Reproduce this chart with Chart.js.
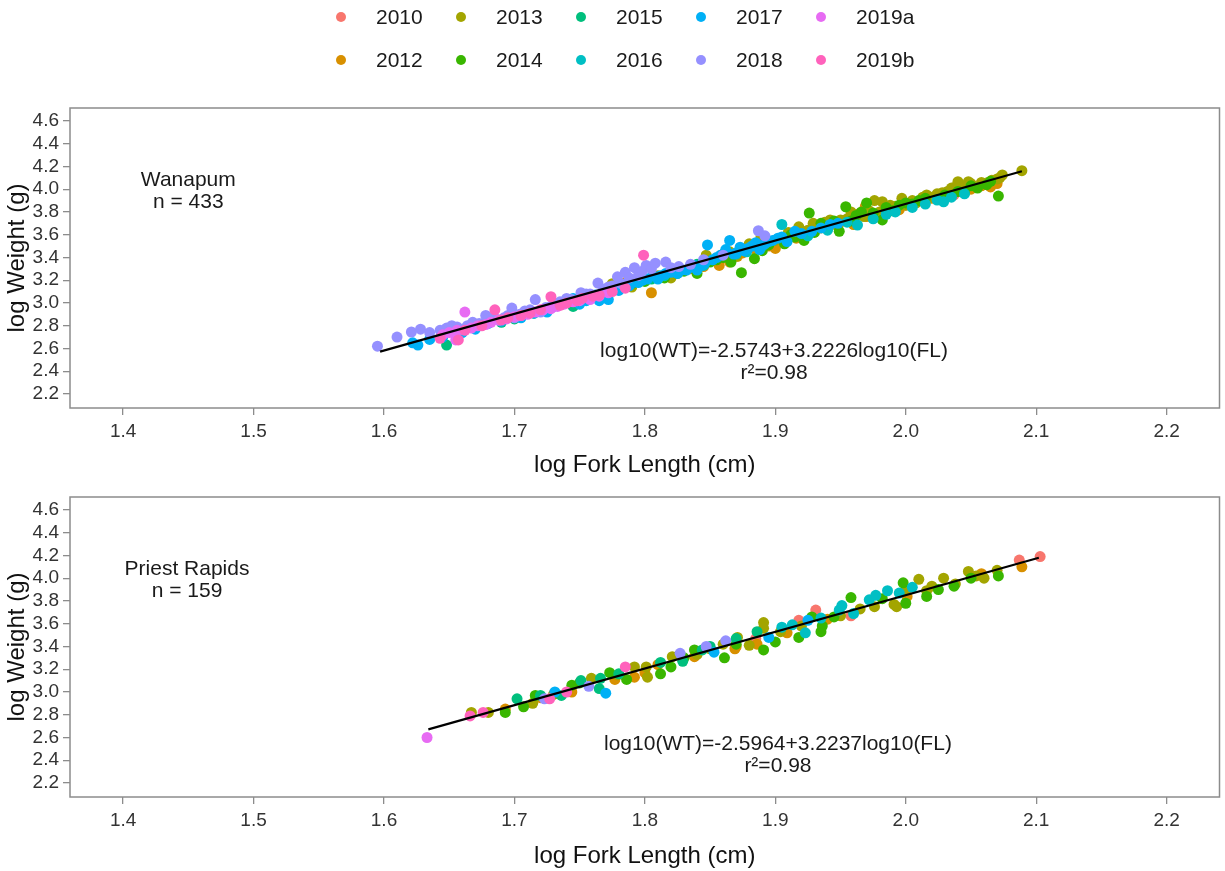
<!DOCTYPE html>
<html>
<head>
<meta charset="utf-8">
<script src="https://cdn.jsdelivr.net/npm/chart.js@4.4.1/dist/chart.umd.min.js"></script>
<style>
  body { margin: 0; background: #ffffff; }
  #wrap { position: relative; width: 1225px; height: 871px; overflow: hidden; font-family: "Liberation Sans", Arial, sans-serif; }
  #c1 { position: absolute; left: 0; top: 0; }
  #c2 { position: absolute; left: 0; top: 480px; }
  #legend { position: absolute; left: 0; top: 0; width: 1225px; height: 80px; z-index: 2; }
  .item { position: absolute; height: 24px; display: flex; align-items: center; font-size: 21px; line-height: 24px; color: #1a1a1a; white-space: nowrap; }
  .dot { width: 10px; height: 10px; border-radius: 50%; margin-right: 30px; flex: none; }
</style>
</head>
<body>
<div id="wrap">
  <div id="legend"></div>
  <canvas id="c1" width="1225" height="480" style="width:1225px;height:480px"></canvas>
  <canvas id="c2" width="1225" height="391" style="width:1225px;height:391px"></canvas>
</div>
<script>
// ---------- categories / colours ----------
const years  = ['2010', '2012', '2013', '2014', '2015', '2016', '2017', '2018', '2019a', '2019b'];
const colors = ['#F8766D', '#D89000', '#A3A500', '#39B600', '#00BF7D', '#00BFC4', '#00B0F6', '#9590FF', '#E76BF3', '#FF62BC'];

// ---------- tick labels ----------
const xTicks = [1.4, 1.5, 1.6, 1.7, 1.8, 1.9, 2.0, 2.1, 2.2];
const yTicks = [2.2, 2.4, 2.6, 2.8, 3.0, 3.2, 3.4, 3.6, 3.8, 4.0, 4.2, 4.4, 4.6];

// ---------- Wanapum: [log FL, log WT] ----------
const wan2010 = [[1.905,3.55],[1.93,3.64],[1.945,3.70],[1.985,3.82],[2.0,3.86],[2.025,3.93],[2.037,3.95],[2.05,4.02],[2.06,4.05]];
const wan2012 = [[1.785,3.18],[1.805,3.09],[1.82,3.27],[1.835,3.30],[1.845,3.32],[1.857,3.33],[1.865,3.36],[1.871,3.41],[1.875,3.44],[1.885,3.47],[1.888,3.49],[1.895,3.50],[1.90,3.48],[1.91,3.58],[1.916,3.57],[1.925,3.62],[1.935,3.66],[1.94,3.68],[1.95,3.71],[1.955,3.73],[1.96,3.69],[1.969,3.85],[1.97,3.76],[1.98,3.78],[1.985,3.79],[1.995,3.82],[2.005,3.86],[2.014,3.89],[2.02,3.92],[2.035,3.95],[2.045,3.99],[2.05,4.00],[2.058,4.03],[2.065,4.02],[2.07,4.05]];
const wan2013 = [[1.775,3.17],[1.79,3.14],[1.81,3.24],[1.82,3.22],[1.835,3.32],[1.847,3.42],[1.85,3.37],[1.86,3.43],[1.865,3.45],[1.87,3.41],[1.875,3.47],[1.88,3.52],[1.889,3.58],[1.895,3.53],[1.90,3.55],[1.905,3.57],[1.91,3.62],[1.912,3.60],[1.918,3.67],[1.92,3.62],[1.925,3.64],[1.929,3.70],[1.935,3.68],[1.938,3.71],[1.942,3.73],[1.946,3.69],[1.95,3.73],[1.955,3.74],[1.958,3.80],[1.96,3.78],[1.965,3.79],[1.968,3.76],[1.972,3.81],[1.976,3.90],[1.98,3.80],[1.982,3.89],[1.985,3.83],[1.988,3.86],[1.992,3.85],[1.997,3.92],[2.0,3.86],[2.005,3.90],[2.008,3.88],[2.013,3.93],[2.016,3.95],[2.02,3.93],[2.024,3.96],[2.028,3.97],[2.032,3.98],[2.035,4.01],[2.038,4.02],[2.04,4.066],[2.045,4.03],[2.048,4.066],[2.05,4.05],[2.055,4.02],[2.058,4.06],[2.063,4.06],[2.066,4.08],[2.07,4.09],[2.072,4.10],[2.074,4.125],[2.089,4.163]];
const wan2014 = [[1.80,3.19],[1.815,3.22],[1.83,3.28],[1.84,3.26],[1.845,3.36],[1.85,3.36],[1.855,3.38],[1.86,3.40],[1.866,3.36],[1.874,3.266],[1.884,3.39],[1.89,3.46],[1.895,3.51],[1.907,3.52],[1.912,3.60],[1.915,3.58],[1.922,3.55],[1.926,3.79],[1.93,3.62],[1.935,3.70],[1.94,3.66],[1.945,3.72],[1.949,3.63],[1.954,3.846],[1.958,3.72],[1.962,3.77],[1.966,3.80],[1.97,3.88],[1.975,3.79],[1.982,3.73],[1.985,3.84],[1.99,3.81],[1.995,3.86],[2.0,3.88],[2.005,3.87],[2.01,3.90],[2.015,3.92],[2.025,3.91],[2.03,3.95],[2.04,3.98],[2.045,3.97],[2.05,4.03],[2.055,4.01],[2.062,4.04],[2.065,4.07],[2.071,3.94]];
const wan2015 = [[1.648,2.63],[1.668,2.80],[1.69,2.83],[1.70,2.86],[1.715,2.91],[1.725,2.94],[1.735,2.99],[1.745,2.97],[1.76,3.05],[1.79,3.17],[1.805,3.21],[1.825,3.26],[1.84,3.34]];
const wan2016 = [[1.815,3.24],[1.845,3.33],[1.87,3.43],[1.878,3.45],[1.89,3.50],[1.905,3.69],[1.925,3.59],[1.94,3.64],[1.955,3.71],[1.963,3.685],[1.975,3.74],[1.985,3.78],[1.992,3.80],[2.005,3.84],[2.015,3.87],[2.024,3.905],[2.029,3.89],[2.035,3.93],[2.045,3.96]];
const wan2017 = [[1.622,2.65],[1.626,2.63],[1.635,2.68],[1.645,2.70],[1.66,2.74],[1.67,2.77],[1.68,2.82],[1.69,2.84],[1.70,2.88],[1.705,2.87],[1.71,2.92],[1.715,2.91],[1.725,2.92],[1.73,2.97],[1.737,3.00],[1.742,3.02],[1.745,3.04],[1.75,2.99],[1.755,3.02],[1.758,3.05],[1.762,3.07],[1.765,3.02],[1.768,3.10],[1.772,3.03],[1.776,3.12],[1.78,3.11],[1.784,3.16],[1.788,3.15],[1.792,3.19],[1.795,3.18],[1.798,3.20],[1.802,3.21],[1.806,3.24],[1.81,3.21],[1.812,3.24],[1.816,3.26],[1.82,3.27],[1.825,3.26],[1.828,3.29],[1.832,3.29],[1.834,3.31],[1.838,3.33],[1.84,3.29],[1.843,3.33],[1.846,3.35],[1.848,3.51],[1.852,3.38],[1.855,3.40],[1.858,3.42],[1.862,3.47],[1.865,3.55],[1.868,3.43],[1.87,3.44],[1.873,3.49],[1.876,3.46],[1.879,3.48],[1.882,3.50],[1.885,3.53],[1.888,3.47],[1.892,3.52],[1.895,3.54],[1.898,3.55],[1.902,3.57],[1.905,3.58],[1.909,3.54],[1.915,3.63],[1.92,3.61],[1.928,3.63],[1.935,3.66],[1.942,3.69],[1.948,3.70]];
const wan2018 = [[1.595,2.62],[1.61,2.70],[1.621,2.745],[1.628,2.77],[1.635,2.74],[1.643,2.76],[1.648,2.78],[1.652,2.80],[1.656,2.79],[1.66,2.77],[1.664,2.80],[1.668,2.83],[1.673,2.82],[1.678,2.89],[1.68,2.86],[1.684,2.88],[1.688,2.85],[1.692,2.87],[1.695,2.89],[1.698,2.955],[1.70,2.87],[1.704,2.90],[1.708,2.93],[1.712,2.94],[1.716,3.03],[1.72,2.92],[1.724,2.96],[1.728,2.97],[1.732,2.99],[1.735,3.01],[1.74,3.04],[1.744,3.03],[1.748,3.02],[1.751,3.09],[1.755,3.08],[1.758,3.08],[1.764,3.175],[1.768,3.12],[1.772,3.14],[1.775,3.15],[1.779,3.23],[1.782,3.17],[1.785,3.27],[1.788,3.22],[1.792,3.31],[1.795,3.24],[1.798,3.28],[1.801,3.33],[1.805,3.30],[1.808,3.35],[1.816,3.36],[1.82,3.31],[1.826,3.32],[1.835,3.34],[1.845,3.38],[1.86,3.42],[1.887,3.635],[1.892,3.59]];
const wan2019a = [[1.645,2.72],[1.65,2.74],[1.655,2.675],[1.656,2.76],[1.662,2.92],[1.667,2.78],[1.672,2.80],[1.678,2.81],[1.682,2.83],[1.688,2.85],[1.694,2.86],[1.70,2.88],[1.705,2.89],[1.71,2.90],[1.716,2.92],[1.722,2.94],[1.728,2.95],[1.733,2.97],[1.738,2.99],[1.745,3.01],[1.75,3.02],[1.758,3.03],[1.765,3.06],[1.772,3.09]];
const wan2019b = [[1.643,2.69],[1.657,2.675],[1.662,2.76],[1.675,2.80],[1.685,2.94],[1.69,2.85],[1.695,2.87],[1.705,2.89],[1.712,2.91],[1.72,2.94],[1.728,3.055],[1.735,2.98],[1.74,3.00],[1.748,3.02],[1.752,3.04],[1.76,3.06],[1.765,3.07],[1.775,3.10],[1.785,3.13],[1.799,3.42]];

// ---------- Priest Rapids: [log FL, log WT] ----------
const pr2010 = [[1.885,3.47],[1.918,3.63],[1.931,3.72],[1.958,3.67],[2.087,4.16],[2.103,4.19]];
const pr2012 = [[1.693,2.85],[1.72,2.95],[1.744,3.00],[1.777,3.11],[1.792,3.13],[1.80,3.17],[1.81,3.24],[1.838,3.31],[1.869,3.38],[1.87,3.40],[1.886,3.42],[1.909,3.52],[1.94,3.64],[2.001,3.84],[2.058,4.04],[2.089,4.10]];
const pr2013 = [[1.667,2.82],[1.68,2.82],[1.714,2.90],[1.73,2.98],[1.759,3.12],[1.779,3.15],[1.792,3.22],[1.801,3.22],[1.802,3.13],[1.821,3.31],[1.84,3.33],[1.85,3.38],[1.86,3.42],[1.871,3.48],[1.88,3.41],[1.891,3.61],[1.891,3.56],[1.904,3.53],[1.92,3.58],[1.95,3.67],[1.965,3.73],[1.976,3.75],[1.991,3.77],[1.993,3.75],[2.0,3.90],[2.01,3.99],[2.016,3.89],[2.02,3.93],[2.029,4.0],[2.038,3.95],[2.048,4.06],[2.054,4.02],[2.06,4.0],[2.07,4.07]];
const pr2014 = [[1.693,2.82],[1.707,2.87],[1.716,2.97],[1.744,3.06],[1.75,3.08],[1.773,3.17],[1.786,3.11],[1.812,3.16],[1.82,3.22],[1.83,3.30],[1.838,3.37],[1.861,3.30],[1.87,3.42],[1.891,3.37],[1.90,3.44],[1.918,3.48],[1.928,3.66],[1.935,3.53],[1.936,3.58],[1.945,3.66],[1.958,3.83],[1.982,3.82],[1.998,3.96],[2.0,3.78],[2.016,3.84],[2.025,3.90],[2.037,3.93],[2.05,4.0],[2.071,4.02]];
const pr2015 = [[1.702,2.94],[1.72,2.97],[1.736,2.97],[1.751,3.10],[1.765,3.03],[1.766,3.12],[1.78,3.16],[1.812,3.26],[1.829,3.27],[1.844,3.37],[1.85,3.40],[1.87,3.47],[1.886,3.53]];
const pr2016 = [[1.905,3.57],[1.913,3.59],[1.923,3.52],[1.935,3.65],[1.949,3.72],[1.951,3.76],[1.96,3.69],[1.972,3.81],[1.977,3.85],[1.986,3.89],[1.995,3.87],[2.005,3.92]];
const pr2017 = [[1.731,3.00],[1.77,2.99],[1.853,3.35],[1.895,3.48],[1.925,3.63]];
const pr2018 = [[1.723,2.94],[1.757,3.05],[1.827,3.34],[1.847,3.40],[1.862,3.45]];
const pr2019a = [[1.633,2.60]];
const pr2019b = [[1.666,2.79],[1.676,2.82],[1.727,2.94],[1.74,3.00],[1.785,3.22]];

// ---------- fitted lines: [intercept, slope] and fitted x range ----------
const wanFit = [-2.5743, 3.2226];
const wanFitRange = [1.597, 2.089];
const prFit = [-2.5964, 3.2237];
const prFitRange = [1.634, 2.102];

// ---------- texts ----------
const xTitle = 'log Fork Length (cm)';
const yTitle = 'log Weight (g)';
const wanNotes = ['Wanapum', 'n = 433', 'log10(WT)=-2.5743+3.2226log10(FL)', 'r\u00B2=0.98'];
const prNotes  = ['Priest Rapids', 'n = 159', 'log10(WT)=-2.5964+3.2237log10(FL)', 'r\u00B2=0.98'];

const wanSeries = [wan2010, wan2012, wan2013, wan2014, wan2015, wan2016, wan2017, wan2018, wan2019a, wan2019b];
const prSeries  = [pr2010, pr2012, pr2013, pr2014, pr2015, pr2016, pr2017, pr2018, pr2019a, pr2019b];

// ---------- rendering ----------
const FONT = '"Liberation Sans", Arial, Helvetica, sans-serif';
Chart.defaults.font.family = FONT;
Chart.defaults.color = '#1a1a1a';

const framePlugin = {
  id: 'frame',
  afterDraw(chart, args, opts) {
    const { ctx, chartArea: a, scales } = chart;
    ctx.save();
    ctx.strokeStyle = '#8c8c8c';
    ctx.lineWidth = 1.5;
    ctx.strokeRect(a.left, a.top, a.right - a.left, a.bottom - a.top);
    ctx.fillStyle = '#1a1a1a';
    ctx.font = '21px ' + FONT;
    ctx.textAlign = 'center';
    ctx.textBaseline = 'middle';
    (opts.notes || []).forEach(n => {
      ctx.fillText(n.text, scales.x.getPixelForValue(n.x), scales.y.getPixelForValue(n.y));
    });
    ctx.restore();
  }
};

function makeChart(canvasId, series, fit, fitRange, padTop, axisHeight, notes) {
  const datasets = series.map((pts, i) => ({
    label: years[i],
    data: pts.map(p => ({ x: p[0], y: p[1] })),
    backgroundColor: colors[i],
    borderColor: colors[i],
    pointRadius: 5.5,
    pointHoverRadius: 5.5,
    pointBorderWidth: 0,
    showLine: false,
    order: -i
  }));
  datasets.push({
    label: 'fit',
    data: fitRange.map(x => ({ x: x, y: fit[0] + fit[1] * x })),
    borderColor: '#000000',
    backgroundColor: '#000000',
    borderWidth: 2.2,
    pointRadius: 0,
    showLine: true,
    order: -100
  });
  return new Chart(document.getElementById(canvasId), {
    type: 'scatter',
    data: { datasets },
    plugins: [framePlugin],
    options: {
      responsive: false,
      animation: false,
      events: [],
      layout: { padding: { top: padTop, left: 0, right: 2, bottom: 0 } },
      plugins: {
        legend: { display: false },
        tooltip: { enabled: false },
        frame: { notes: notes }
      },
      scales: {
        x: {
          type: 'linear',
          min: 1.3593, max: 2.2405,
          afterBuildTicks: s => { s.ticks = xTicks.map(v => ({ value: v })); },
          afterFit: s => { s.height = axisHeight; },
          ticks: { autoSkip: false, maxRotation: 0, padding: 5, color: '#333333',
                   font: { size: 19 }, callback: v => Number(v).toFixed(1) },
          grid: { display: true, drawOnChartArea: false, drawTicks: true, tickLength: 7,
                  color: '#8c8c8c', lineWidth: 1.3 },
          border: { display: false },
          title: { display: true, text: xTitle, color: '#111111', font: { size: 24 },
                   padding: { top: 0, bottom: 0 } }
        },
        y: {
          type: 'linear',
          min: 2.077, max: 4.714,
          afterBuildTicks: s => { s.ticks = yTicks.map(v => ({ value: v })); },
          afterFit: s => { s.width = 70; },
          ticks: { autoSkip: false, padding: 4, color: '#333333',
                   font: { size: 19 }, callback: v => Number(v).toFixed(1) },
          grid: { display: true, drawOnChartArea: false, drawTicks: true, tickLength: 7,
                  color: '#8c8c8c', lineWidth: 1.3 },
          border: { display: false },
          title: { display: true, text: yTitle, color: '#111111', font: { size: 24 },
                   padding: { top: 3, bottom: 0 } }
        }
      }
    }
  });
}

const chart1 = makeChart('c1', wanSeries, wanFit, wanFitRange, 108, 72, [
  { text: wanNotes[0], x: 1.450, y: 4.081 },
  { text: wanNotes[1], x: 1.450, y: 3.890 },
  { text: wanNotes[2], x: 1.899, y: 2.578 },
  { text: wanNotes[3], x: 1.899, y: 2.385 }
]);
const chart2 = makeChart('c2', prSeries, prFit, prFitRange, 17, 74, [
  { text: prNotes[0], x: 1.449, y: 4.081 },
  { text: prNotes[1], x: 1.449, y: 3.885 },
  { text: prNotes[2], x: 1.902, y: 2.543 },
  { text: prNotes[3], x: 1.902, y: 2.349 }
]);

// ---------- legend (two rows, filled column by column) ----------
const legendColX = [341, 461, 581, 701, 821];
const legendRowY = [17, 60];
const legendEl = document.getElementById('legend');
chart1.data.datasets.slice(0, years.length).forEach((ds, i) => {
  const col = Math.floor(i / 2), row = i % 2;
  const item = document.createElement('div');
  item.className = 'item';
  item.style.left = (legendColX[col] - 5) + 'px';
  item.style.top = (legendRowY[row] - 12) + 'px';
  const dot = document.createElement('span');
  dot.className = 'dot';
  dot.style.background = ds.backgroundColor;
  const txt = document.createElement('span');
  txt.textContent = ds.label;
  item.appendChild(dot);
  item.appendChild(txt);
  legendEl.appendChild(item);
});
</script>
</body>
</html>
